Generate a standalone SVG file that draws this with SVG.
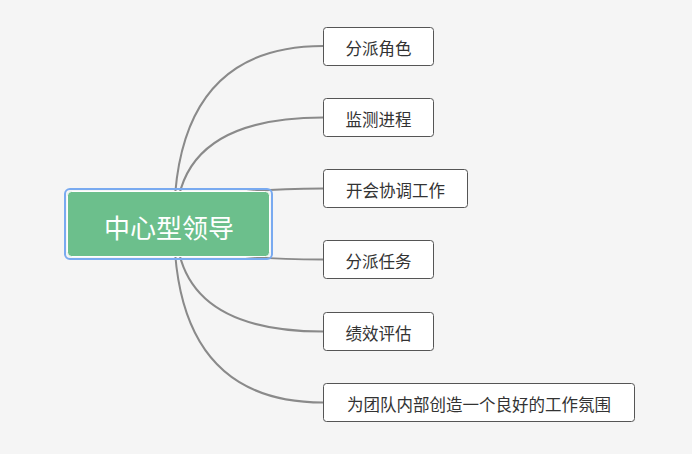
<svg xmlns="http://www.w3.org/2000/svg" width="692" height="454" viewBox="0 0 692 454">
<style>
.bg{fill:#f5f5f5}
.conn{fill:none;stroke:#8a8a8a;stroke-width:2}
.box{fill:#ffffff;stroke:#555555;stroke-width:1}
.lbl{font-family:"Noto Sans CJK SC","Noto Sans",sans-serif;font-size:16.5px;fill:#333333;text-anchor:middle;dominant-baseline:central}
.root{fill:#6cbf8c;stroke:#ffffff;stroke-width:1}
.rootsel{fill:none;stroke:#79aaf0;stroke-width:2}
.rootlbl{font-family:"Noto Sans CJK SC","Noto Sans",sans-serif;font-size:26px;fill:#ffffff;text-anchor:middle;dominant-baseline:central}
</style>
<rect class="bg" x="0" y="0" width="692" height="454"/>
<g id="connectors">
<path class="conn" d="M174,224 Q174,46 323,46"/>
<path class="conn" d="M176,224 Q176,117.5 323,117.5"/>
<path class="conn" d="M176,224 Q176,188.5 323,188.5"/>
<path class="conn" d="M176,224 Q176,259.5 323,259.5"/>
<path class="conn" d="M176,224 Q176,331.5 323,331.5"/>
<path class="conn" d="M174,224 Q174,402.5 323,402.5"/>
</g>
<g id="root">
<rect class="rootsel" x="65" y="189" width="207" height="70" rx="5"/>
<rect class="root" x="67.5" y="191.5" width="202" height="65" rx="4"/>
<text class="rootlbl" x="169" y="226">中心型领导</text>
</g>
<g id="n1">
<rect class="box" x="323.5" y="27.5" width="110" height="38" rx="3"/>
<text class="lbl" x="378.5" y="48">分派角色</text>
</g>
<g id="n2">
<rect class="box" x="323.5" y="98.5" width="110" height="38" rx="3"/>
<text class="lbl" x="378.5" y="119">监测进程</text>
</g>
<g id="n3">
<rect class="box" x="323.5" y="169.5" width="144" height="38" rx="3"/>
<text class="lbl" x="395.5" y="190">开会协调工作</text>
</g>
<g id="n4">
<rect class="box" x="323.5" y="240.5" width="110" height="38" rx="3"/>
<text class="lbl" x="378.5" y="261">分派任务</text>
</g>
<g id="n5">
<rect class="box" x="323.5" y="312.5" width="110" height="38" rx="3"/>
<text class="lbl" x="378.5" y="333">绩效评估</text>
</g>
<g id="n6">
<rect class="box" x="323.5" y="383.5" width="311" height="38" rx="3"/>
<text class="lbl" x="479" y="404">为团队内部创造一个良好的工作氛围</text>
</g>
</svg>
